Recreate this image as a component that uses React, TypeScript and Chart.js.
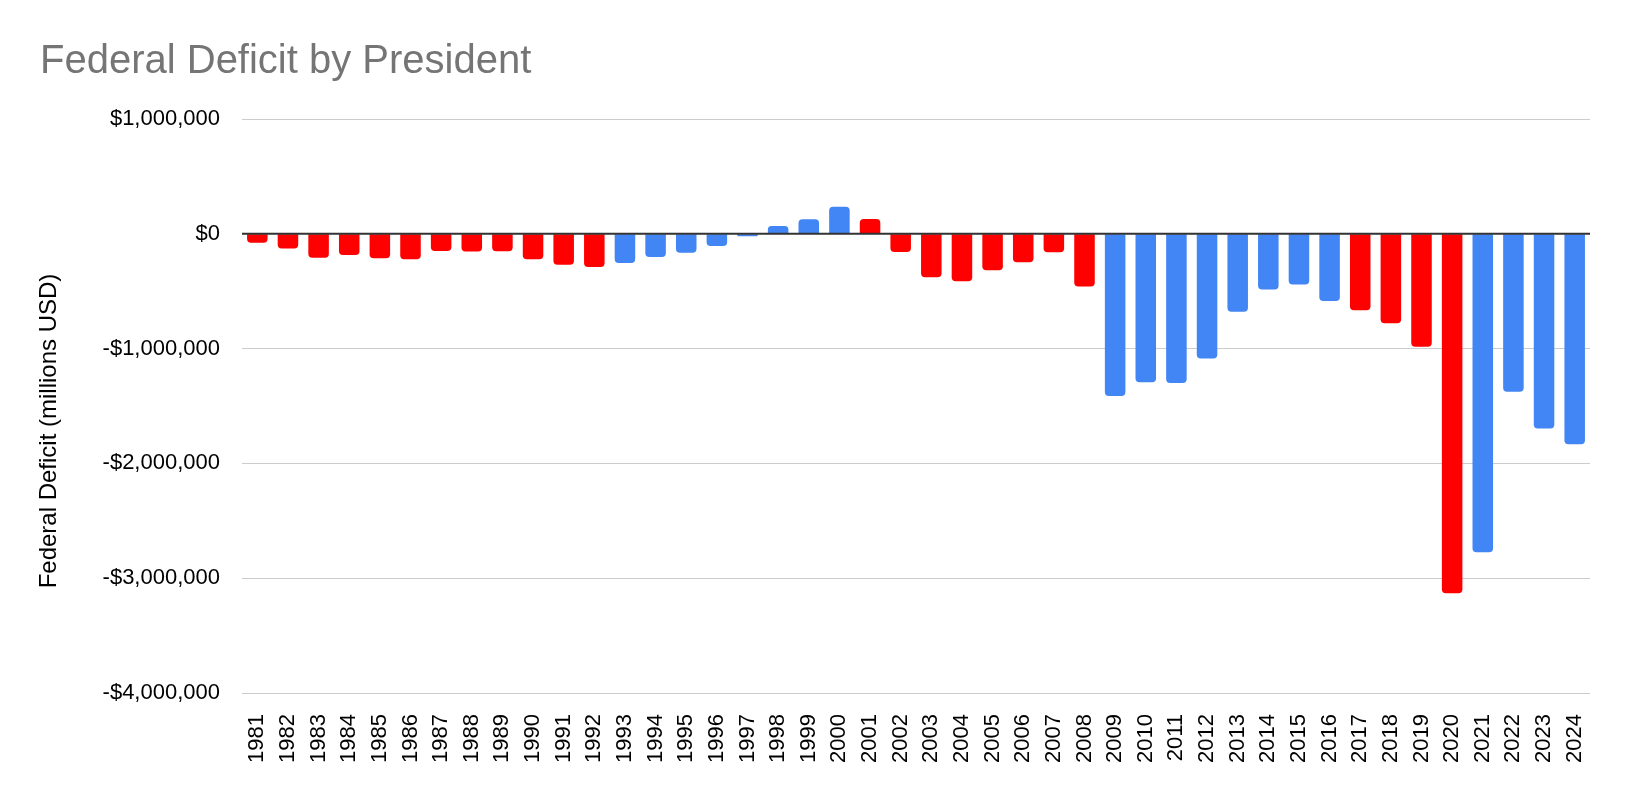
import React, { useEffect, useRef } from "react";
import { Chart, registerables } from "chart.js";

Chart.register(...registerables);

const TITLE = "Federal Deficit by President";
const Y_TITLE = "Federal Deficit (millions USD)";

const years = [
  "1981", "1982", "1983", "1984", "1985", "1986", "1987", "1988", "1989", "1990",
  "1991", "1992", "1993", "1994", "1995", "1996", "1997", "1998", "1999", "2000",
  "2001", "2002", "2003", "2004", "2005", "2006", "2007", "2008", "2009", "2010",
  "2011", "2012", "2013", "2014", "2015", "2016", "2017", "2018", "2019", "2020",
  "2021", "2022", "2023", "2024",
];

// millions USD
const deficits = [
  -79000, -128000, -208000, -185000, -212000, -221000, -150000, -155000, -153000, -221000,
  -269000, -290000, -255000, -203000, -164000, -107000, -22000, 69000, 126000, 236000,
  128000, -158000, -378000, -413000, -318000, -248000, -161000, -459000, -1413000, -1294000,
  -1300000, -1087000, -680000, -485000, -442000, -585000, -665000, -779000, -984000, -3132000,
  -2775000, -1376000, -1695000, -1833000,
];

// party of the president: R = Republican, D = Democrat
const parties = [
  "R", "R", "R", "R", "R", "R", "R", "R", "R", "R",
  "R", "R", "D", "D", "D", "D", "D", "D", "D", "D",
  "R", "R", "R", "R", "R", "R", "R", "R", "D", "D",
  "D", "D", "D", "D", "D", "D", "R", "R", "R", "R",
  "D", "D", "D", "D",
];

const partyColors: Record<string, string> = { R: "#ff0000", D: "#4285f4" };

const yMin = -4000000;
const yMax = 1000000;
const yStep = 1000000;

const FONT = '"Liberation Sans", Arial, sans-serif';

function formatDollars(v: number): string {
  const abs = Math.abs(v).toLocaleString("en-US");
  return (v < 0 ? "-$" : "$") + abs;
}

const titlePlugin = {
  id: "customTitle",
  beforeDraw(chart: any) {
    const c = chart.ctx;
    c.save();
    c.font = `40px ${FONT}`;
    c.fillStyle = "#757575";
    c.textBaseline = "alphabetic";
    c.textAlign = "left";
    c.fillText(TITLE, 40, 73);
    c.restore();
  },
};

const yTitlePlugin = {
  id: "yTitle",
  afterDraw(chart: any) {
    const { top, bottom } = chart.chartArea;
    const c = chart.ctx;
    c.save();
    c.translate(49, (top + bottom) / 2 + 25);
    c.rotate(-Math.PI / 2);
    c.font = `24px ${FONT}`;
    c.fillStyle = "#000000";
    c.textAlign = "center";
    c.textBaseline = "middle";
    c.fillText(Y_TITLE, 0, 0);
    c.restore();
  },
};

const zeroLinePlugin = {
  id: "zeroLine",
  afterDatasetsDraw(chart: any) {
    const y = chart.scales.y.getPixelForValue(0);
    const { left, right } = chart.chartArea;
    const c = chart.ctx;
    c.save();
    c.strokeStyle = "#333333";
    c.lineWidth = 2;
    c.beginPath();
    c.moveTo(left, y);
    c.lineTo(right, y);
    c.stroke();
    c.restore();
  },
};

export default function App() {
  const ref = useRef<HTMLCanvasElement>(null);

  useEffect(() => {
    document.body.style.margin = "0";
    const canvas = ref.current;
    if (!canvas) return;
    const chart = new Chart(canvas, {
      type: "bar",
      data: {
        labels: years,
        datasets: [
          {
            data: deficits,
            backgroundColor: parties.map((p) => partyColors[p]),
            borderWidth: 0,
            borderRadius: 4,
            borderSkipped: "start",
            barPercentage: 0.67,
            categoryPercentage: 1,
          },
        ],
      },
      options: {
        animation: false,
        responsive: true,
        maintainAspectRatio: false,
        layout: { padding: { top: 119, right: 38, left: 0, bottom: 0 } },
        plugins: {
          legend: { display: false },
          title: { display: false },
          tooltip: { enabled: false },
        },
        scales: {
          x: {
            grid: { display: false },
            border: { display: false },
            ticks: {
              autoSkip: false,
              maxRotation: 90,
              minRotation: 90,
              padding: 13,
              color: "#000000",
              font: { family: FONT, size: 22 },
            },
            afterFit(s: any) {
              s.height = 103;
            },
          },
          y: {
            min: yMin,
            max: yMax,
            border: { display: false },
            grid: { color: "#cccccc", lineWidth: 1, drawTicks: false },
            ticks: {
              stepSize: yStep,
              padding: 22,
              color: "#000000",
              font: { family: FONT, size: 22 },
              callback: (v: any) => formatDollars(Number(v)),
            },
            afterFit(s: any) {
              s.width = 242;
            },
          },
        },
      },
      plugins: [titlePlugin, yTitlePlugin, zeroLinePlugin],
    });
    return () => chart.destroy();
  }, []);

  return (
    <div style={{ width: 1628, height: 796, position: "relative", background: "#ffffff" }}>
      <canvas ref={ref} />
    </div>
  );
}
